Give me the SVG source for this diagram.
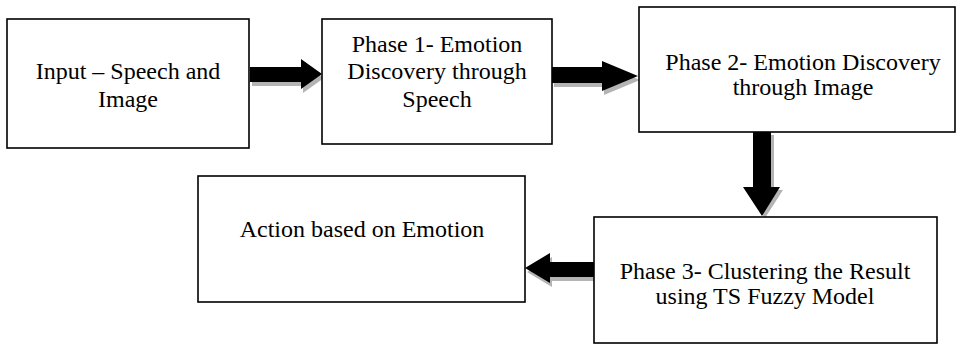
<svg xmlns="http://www.w3.org/2000/svg" width="956" height="344" viewBox="0 0 956 344">
<style>
.box{fill:#fff;stroke:#000;stroke-width:1.6}
text{font-size:24px;fill:#000;text-anchor:middle}
.arr{fill:#000}
.sh{fill:#b4b4b4}
</style>
<rect width="956" height="344" fill="#fff"/>
<g id="connectors">
  <g transform="translate(2,4)" class="sh">
    <polygon points="250,67 301,67 301,59 322,74 301,89 301,82 250,82"/>
    <polygon points="552,67 602,67 602,61 638,76 602,91 602,83 552,83"/>
    <polygon points="525,268 550,253 550,262 594,262 594,277 550,277 550,283"/>
  </g>
  <polygon class="sh" transform="translate(3,3)" points="753,132 771,132 771,187 780,187 762,215 743,187 753,187"/>
  <polygon class="arr" points="250,67 301,67 301,59 322,74 301,89 301,82 250,82"/>
  <polygon class="arr" points="552,67 602,67 602,61 638,76 602,91 602,83 552,83"/>
  <polygon class="arr" points="753,132 771,132 771,187 780,187 762,216 743,187 753,187"/>
  <polygon class="arr" points="525,268 550,253 550,262 594,262 594,277 550,277 550,283"/>
</g>
<g font-family="Liberation Serif, Times New Roman, DejaVu Serif, serif">
<g id="input">
  <rect class="box" x="7" y="19" width="242" height="129"/>
  <text x="128" y="79">Input – Speech and</text>
  <text x="128" y="107">Image</text>
</g>
<g id="phase1">
  <rect class="box" x="322" y="19" width="230" height="125"/>
  <text x="437" y="52">Phase 1- Emotion</text>
  <text x="437" y="79">Discovery through</text>
  <text x="437" y="107">Speech</text>
</g>
<g id="phase2">
  <rect class="box" x="639" y="7" width="316" height="125"/>
  <text x="803" y="70">Phase 2- Emotion Discovery</text>
  <text x="803" y="95">through Image</text>
</g>
<g id="phase3">
  <rect class="box" x="594" y="217" width="343" height="126"/>
  <text x="765" y="279">Phase 3- Clustering the Result</text>
  <text x="765" y="304">using TS Fuzzy Model</text>
</g>
<g id="action">
  <rect class="box" x="198" y="176" width="327" height="126"/>
  <text x="362" y="237">Action based on Emotion</text>
</g>
</g>
</svg>
